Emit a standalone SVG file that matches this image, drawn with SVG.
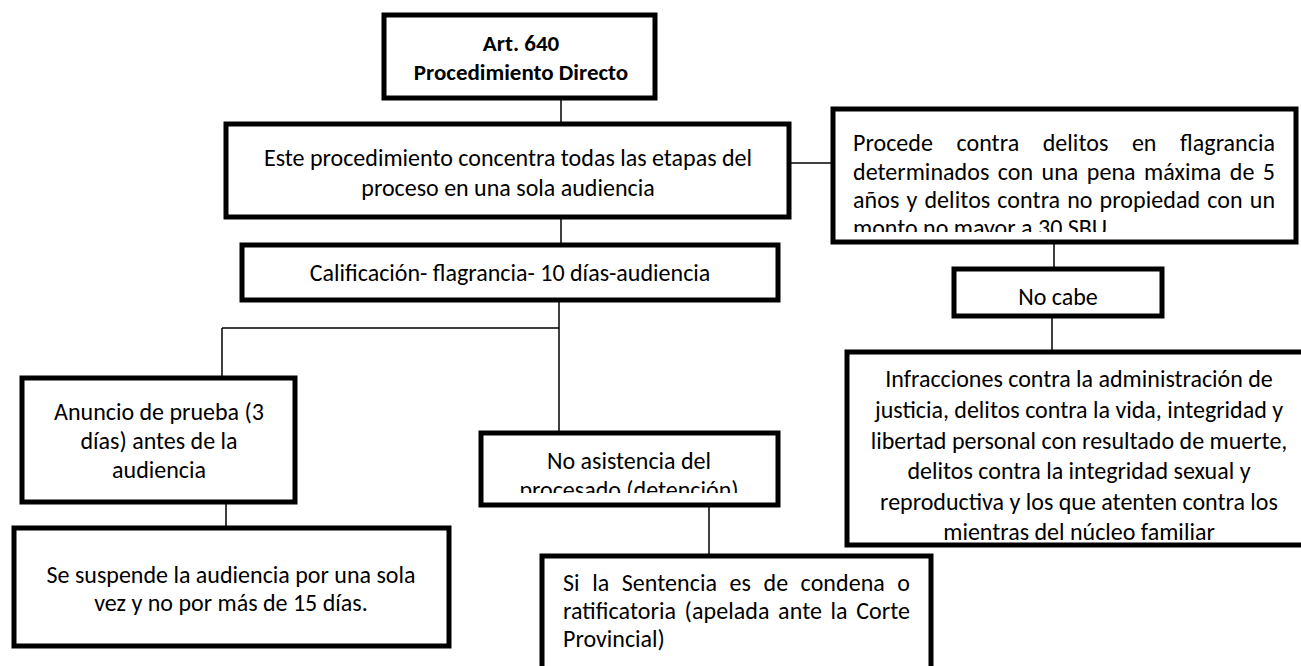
<svg xmlns="http://www.w3.org/2000/svg" width="1301" height="666" viewBox="0 0 1301 666">
<style>
.box{fill:#fff;stroke:#000;stroke-width:5}
.ln{fill:none;stroke:#000;stroke-width:1.5}
text{font-family:Carlito,Calibri,Lato,"Liberation Sans",sans-serif;font-size:24px;fill:#000}
.c{text-anchor:middle}
.b{font-weight:bold;font-size:23px}
</style>
<defs>
<clipPath id="cpProcede"><rect x="833" y="109" width="463" height="123"/></clipPath>
<clipPath id="cpNoAsis"><rect x="481" y="433" width="297" height="60"/></clipPath>
</defs>
<rect width="1301" height="666" fill="#fff"/>
<g id="connectors">
<line class="ln" x1="561" y1="100" x2="561" y2="122"/>
<line class="ln" x1="561" y1="219" x2="561" y2="243"/>
<line class="ln" x1="791" y1="163" x2="831" y2="163"/>
<line class="ln" x1="1054" y1="244" x2="1054" y2="267"/>
<line class="ln" x1="1052" y1="318" x2="1052" y2="350"/>
<line class="ln" x1="559" y1="302" x2="559" y2="431"/>
<line class="ln" x1="222" y1="328" x2="559" y2="328"/>
<line class="ln" x1="222" y1="328" x2="222" y2="376"/>
<line class="ln" x1="226" y1="504" x2="226" y2="526"/>
<line class="ln" x1="709" y1="507" x2="709" y2="554"/>
</g>
<g id="art640">
<rect class="box" x="384" y="15" width="271" height="83"/>
<text class="c b" x="521" y="51">Art. 640</text>
<text class="c b" x="521" y="80">Procedimiento Directo</text>
</g>
<g id="este">
<rect class="box" x="226" y="124" width="563" height="93"/>
<text class="c" x="508" y="166">Este procedimiento concentra todas las  etapas del</text>
<text class="c" x="508" y="196">proceso en una sola audiencia</text>
</g>
<g id="procede">
<rect class="box" x="833" y="109" width="463" height="133"/>
<g clip-path="url(#cpProcede)">
<text x="853" y="151" word-spacing="18" textLength="422" lengthAdjust="spacing">Procede contra delitos en flagrancia</text>
<text x="853" y="180" word-spacing="3" textLength="422" lengthAdjust="spacing">determinados con una pena máxima de 5</text>
<text x="853" y="208" word-spacing="1.5" textLength="422" lengthAdjust="spacing">años y delitos contra no propiedad con un</text>
<text x="853" y="236">monto no mayor a 30 SBU.</text>
</g>
</g>
<g id="calificacion">
<rect class="box" x="242" y="245" width="536" height="55"/>
<text class="c" x="510" y="281">Calificación- flagrancia- 10 días-audiencia</text>
</g>
<g id="nocabe">
<rect class="box" x="954" y="269" width="208" height="47"/>
<text class="c" x="1058" y="305">No cabe</text>
</g>
<g id="infracciones">
<rect class="box" x="847" y="352" width="460" height="193"/>
<text class="c" x="1079" y="387">Infracciones contra la administración de</text>
<text class="c" x="1079" y="418">justicia, delitos contra la vida, integridad y</text>
<text class="c" x="1079" y="449">libertad personal con resultado de muerte,</text>
<text class="c" x="1079" y="479">delitos contra la integridad sexual y</text>
<text class="c" x="1079" y="510">reproductiva y los que atenten contra los</text>
<text class="c" x="1079" y="540">mientras del núcleo familiar</text>
</g>
<g id="anuncio">
<rect class="box" x="22" y="378" width="273" height="124"/>
<text class="c" x="159" y="420">Anuncio de prueba (3</text>
<text class="c" x="159" y="449">días) antes de la</text>
<text class="c" x="159" y="478">audiencia</text>
</g>
<g id="noasistencia">
<rect class="box" x="481" y="433" width="297" height="72"/>
<g clip-path="url(#cpNoAsis)">
<text class="c" x="629" y="469">No asistencia del</text>
<text class="c" x="629" y="498">procesado (detención)</text>
</g>
</g>
<g id="suspende">
<rect class="box" x="14" y="528" width="435" height="118"/>
<text class="c" x="231" y="583">Se suspende la audiencia por una sola</text>
<text class="c" x="231" y="611">vez y no por más de 15 días.</text>
</g>
<g id="sentencia">
<rect class="box" x="542" y="556" width="389" height="130"/>
<text x="563" y="591" word-spacing="7" textLength="347" lengthAdjust="spacing">Si la Sentencia es de condena o</text>
<text x="563" y="619" word-spacing="3" textLength="347" lengthAdjust="spacing">ratificatoria (apelada ante la Corte</text>
<text x="563" y="647">Provincial)</text>
</g>
</svg>
